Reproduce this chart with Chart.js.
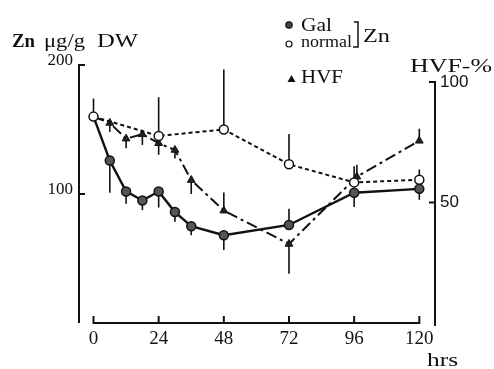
<!DOCTYPE html>
<html><head><meta charset="utf-8">
<script src="https://cdn.jsdelivr.net/npm/chart.js@4"></script>
<style>html,body{margin:0;padding:0;background:#fff}#wrap{width:494px;height:369px;position:relative}</style>
</head><body><div id="wrap"><canvas id="c" width="494" height="369"></canvas></div>
<script>
// ---- data ----
const hours = [0, 6, 12, 18, 24, 30, 36, 48, 72, 96, 120];
const galZn = [160, 126, 102, 95, 102, 86, 75, 68, 76, 101, 104];
const galErrDown = [0, 25, 9.5, 7.5, 12.5, 7.5, 7, 11.5, 0, 11, 8.5];
const galErrUp = [0, 0, 0, 0, 0, 0, 0, 0, 12.5, 0, 0];
const normalHours = [0, 24, 48, 72, 96, 120];
const normalZn = [160, 145, 150, 123, 109, 111];
const normalErrUp = [14, 30, 46.5, 23.5, 12.5, 8];
const hvfHours = [0, 6, 12, 18, 24, 30, 36, 48, 72, 97, 120];
const hvfPct = [85.6, 83, 76.5, 78.3, 74.6, 71.8, 59.3, 46.6, 32.8, 60.7, 75.6];
const hvfErrDown = [0, 3.7, 4, 4.4, 4.8, 3.5, 5.8, 0, 12.4, 0, 0];
const hvfErrUp = [0, 0, 0, 0, 0, 0, 0, 7.5, 0, 5, 5];
const xTicks = [0, 24, 48, 72, 96, 120];
const znTicks = [100, 200];
const hvfTicks = [50, 100];
const xLabel = 'hrs';
const yLabel = ['Zn', 'μg/g', 'DW'];
const y2Label = 'HVF-%';
const legendLabels = ['Gal', 'normal', 'Zn', 'HVF'];

const INK = '#111';
const SERIF = '"Liberation Serif", "Times New Roman", Times, serif';
const SANS = '"Liberation Sans", Arial, Helvetica, sans-serif';
const pts = (xs, ys) => xs.map((x, i) => ({x: x, y: ys[i]}));

function txt(ctx, s, x, y, font, w) {
  ctx.save();
  ctx.font = font; ctx.textBaseline = 'alphabetic'; ctx.textAlign = 'left';
  ctx.fillStyle = INK;
  const m = ctx.measureText(s).width;
  ctx.translate(x, y);
  if (w) ctx.scale(w / m, 1);
  ctx.fillText(s, 0, 0);
  ctx.restore();
}

const errBars = {
  id: 'errBars',
  beforeDatasetsDraw(chart) {
    const ctx = chart.ctx, xs = chart.scales.x, y = chart.scales.y, y1 = chart.scales.y1;
    ctx.save();
    ctx.strokeStyle = INK; ctx.lineWidth = 1.6;
    const seg = (sc, xv, v, up, dn) => {
      const px = xs.getPixelForValue(xv);
      if (up) { ctx.beginPath(); ctx.moveTo(px, sc.getPixelForValue(v)); ctx.lineTo(px, sc.getPixelForValue(v + up)); ctx.stroke(); }
      if (dn) { ctx.beginPath(); ctx.moveTo(px, sc.getPixelForValue(v)); ctx.lineTo(px, sc.getPixelForValue(v - dn)); ctx.stroke(); }
    };
    hours.forEach((h, i) => seg(y, h, galZn[i], galErrUp[i], galErrDown[i]));
    normalHours.forEach((h, i) => seg(y, h, normalZn[i], normalErrUp[i], 0));
    hvfHours.forEach((h, i) => seg(y1, h, hvfPct[i], hvfErrUp[i], hvfErrDown[i]));
    ctx.restore();
  }
};

const decor = {
  id: 'decor',
  afterDraw(chart) {
    const ctx = chart.ctx, xs = chart.scales.x, y = chart.scales.y, y1 = chart.scales.y1;
    ctx.save();
    ctx.strokeStyle = INK; ctx.lineWidth = 2; ctx.lineCap = 'butt';
    // left axis
    const lx = chart.chartArea.left;
    ctx.beginPath(); ctx.moveTo(lx, y.getPixelForValue(200)); ctx.lineTo(lx, y.getPixelForValue(0)); ctx.stroke();
    znTicks.forEach(v => { const py = y.getPixelForValue(v); ctx.beginPath(); ctx.moveTo(lx - 1, py); ctx.lineTo(lx + 6, py); ctx.stroke(); });
    // right axis
    const rx = chart.chartArea.right;
    ctx.beginPath(); ctx.moveTo(rx, y1.getPixelForValue(100)); ctx.lineTo(rx, y.getPixelForValue(0) + 3); ctx.stroke();
    hvfTicks.forEach(v => { const py = y1.getPixelForValue(v); ctx.beginPath(); ctx.moveTo(rx + 1, py); ctx.lineTo(rx - 6, py); ctx.stroke(); });
    // x axis
    const by = y.getPixelForValue(0);
    ctx.beginPath(); ctx.moveTo(xs.getPixelForValue(0), by); ctx.lineTo(xs.getPixelForValue(120), by); ctx.stroke();
    xTicks.forEach(v => { const px = xs.getPixelForValue(v); ctx.beginPath(); ctx.moveTo(px, by + 1); ctx.lineTo(px, by - 7); ctx.stroke(); });

    // axis titles
    txt(ctx, yLabel[0], 12, 47, 'bold 18px ' + SERIF, 23);
    txt(ctx, yLabel[1], 44, 47, '18px ' + SERIF, 41);
    txt(ctx, yLabel[2], 97, 47, '18px ' + SERIF, 41);
    txt(ctx, y2Label, 410, 72, '19px ' + SERIF, 82);
    txt(ctx, xLabel, 427, 366, '18px ' + SERIF, 31);

    // legend
    ctx.fillStyle = '#444'; ctx.lineWidth = 1.2;
    ctx.beginPath(); ctx.arc(289, 25, 3.2, 0, Math.PI * 2); ctx.fill(); ctx.stroke();
    ctx.fillStyle = '#fff';
    ctx.beginPath(); ctx.arc(289, 44, 3, 0, Math.PI * 2); ctx.fill(); ctx.stroke();
    ctx.fillStyle = INK;
    ctx.beginPath(); ctx.moveTo(291.5, 75); ctx.lineTo(295.5, 82); ctx.lineTo(287.5, 82); ctx.closePath(); ctx.fill();
    txt(ctx, legendLabels[0], 301, 31, '18px ' + SERIF, 31);
    txt(ctx, legendLabels[1], 301, 47, '16px ' + SERIF, 51);
    txt(ctx, legendLabels[2], 363, 42, '19px ' + SERIF, 27);
    txt(ctx, legendLabels[3], 301, 83, '18px ' + SERIF, 42);
    ctx.lineWidth = 1.5;
    ctx.beginPath(); ctx.moveTo(354, 22); ctx.lineTo(358, 22); ctx.lineTo(358, 47); ctx.lineTo(353, 47); ctx.stroke();
    ctx.restore();
  }
};

new Chart(document.getElementById('c'), {
  type: 'line',
  data: {
    datasets: [
      { label: 'normal', data: pts(normalHours, normalZn), yAxisID: 'y', order: 0,
        borderColor: INK, borderWidth: 2, borderDash: [4, 3],
        pointRadius: 4.5, pointBackgroundColor: '#fff', pointBorderColor: INK, pointBorderWidth: 1.5 },
      { label: 'Gal', data: pts(hours, galZn), yAxisID: 'y', order: 1,
        borderColor: INK, borderWidth: 2.4,
        pointRadius: hours.map(h => h === 0 ? 0 : 4.5), pointBackgroundColor: '#555', pointBorderColor: INK, pointBorderWidth: 1.5 },
      { label: 'HVF', data: pts(hvfHours, hvfPct), yAxisID: 'y1', order: 2,
        borderColor: INK, borderWidth: 2, borderDash: [11, 4, 3, 4],
        pointStyle: 'triangle', pointRadius: hvfHours.map(h => h === 0 ? 0 : 4.5), pointBackgroundColor: '#222', pointBorderColor: INK, pointBorderWidth: 1 }
    ]
  },
  options: {
    responsive: false, devicePixelRatio: 1, animation: false,
    layout: { padding: { top: 65, left: 0, right: 0, bottom: 0 } },
    plugins: { legend: { display: false }, tooltip: { enabled: false } },
    elements: { line: { tension: 0 } },
    scales: {
      x: {
        type: 'linear', min: -5.34, max: 125.78,
        grid: { display: false, drawTicks: false }, border: { display: false },
        afterBuildTicks: s => { s.ticks = xTicks.map(v => ({ value: v })); },
        afterFit: s => { s.height = 46; },
        ticks: { color: INK, padding: 5, font: { family: SERIF, size: 19 }, maxRotation: 0, autoSkip: false }
      },
      y: {
        position: 'left', min: 0, max: 200,
        grid: { display: false, drawTicks: false }, border: { display: false },
        afterBuildTicks: s => { s.ticks = znTicks.map(v => ({ value: v })); },
        afterFit: s => { s.width = 79; },
        ticks: { color: INK, padding: 6, labelOffset: -4, font: { family: SERIF, size: 17 } }
      },
      y1: {
        position: 'right', min: 0, max: 107.05,
        grid: { display: false, drawTicks: false }, border: { display: false },
        afterBuildTicks: s => { s.ticks = hvfTicks.map(v => ({ value: v })); },
        afterFit: s => { s.width = 59; },
        ticks: { color: INK, padding: 5, font: { family: SANS, size: 17 } }
      }
    }
  },
  plugins: [errBars, decor]
});
</script></body></html>
